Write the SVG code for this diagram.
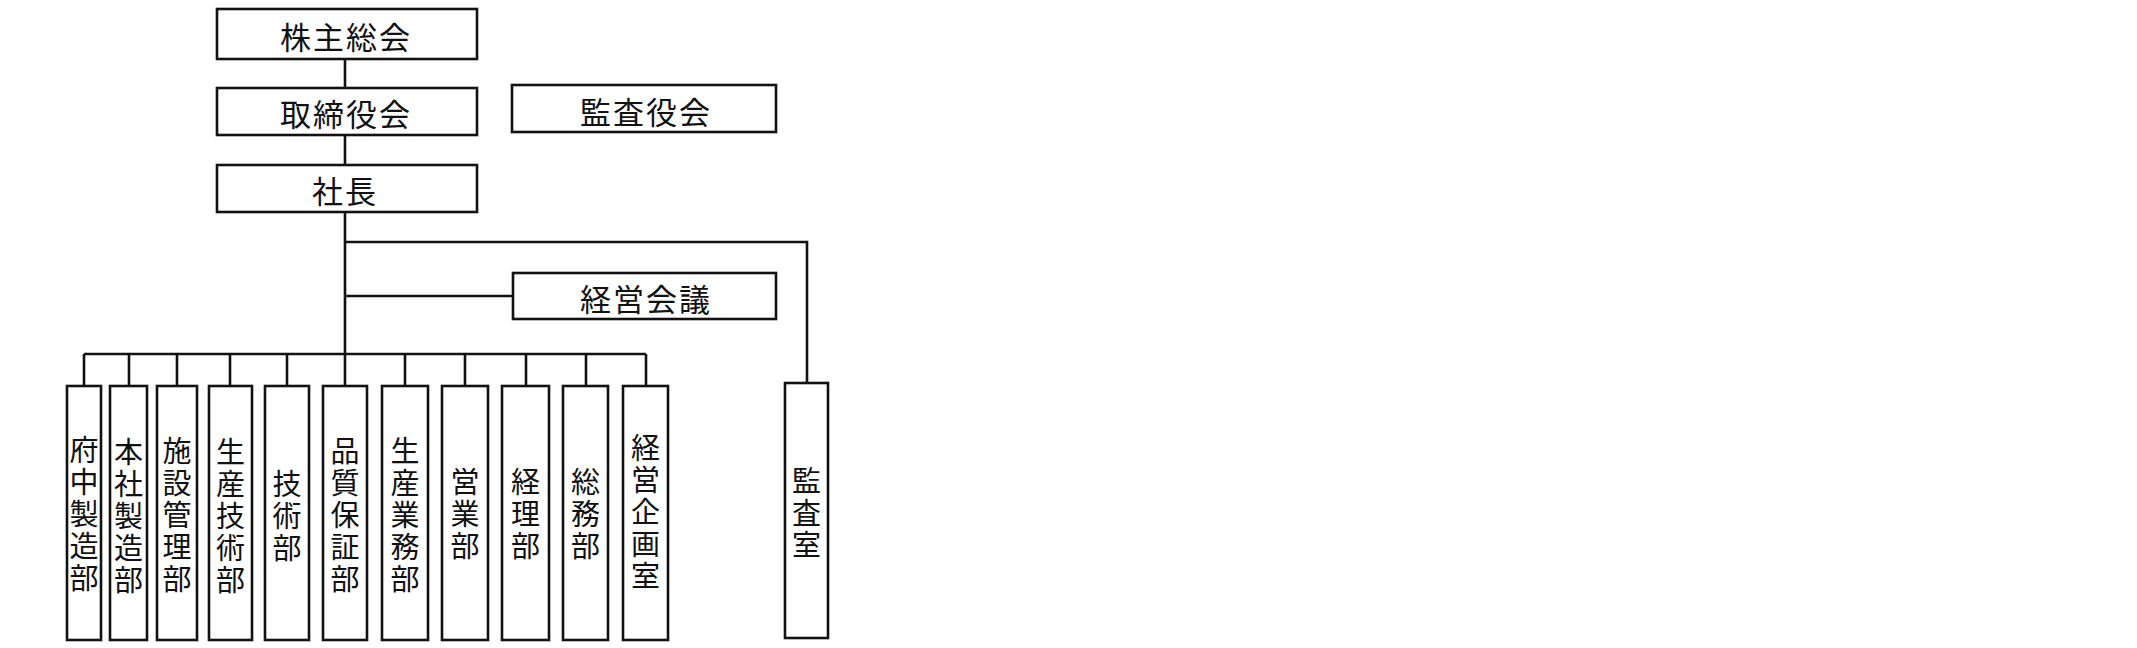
<svg xmlns="http://www.w3.org/2000/svg" width="2137" height="648" viewBox="0 0 2137 648">
<style>
rect{fill:#fff;stroke:#111;stroke-width:2.6}
.c path{fill:none;stroke:#111;stroke-width:2.6}
text{font-family:"Noto Sans CJK JP","Noto Sans CJK SC",sans-serif;fill:#111;text-anchor:middle}
.h{font-size:31px;letter-spacing:2px;dominant-baseline:central}
.v{font-size:29px;letter-spacing:3px;writing-mode:vertical-rl}
</style>
<rect x="0" y="0" width="2137" height="648" style="fill:#fff;stroke:none"/>
<g class="c" id="connectors">
<path d="M345 59V88M345 135V165M345 212V354"/>
<path d="M345 242H807V383"/>
<path d="M345 296H513"/>
<path d="M84 354H646"/>
<path d="M84 354V386M129 354V386M177 354V386M230 354V386M287 354V386M345 354V386M405 354V386M465 354V386M526 354V386M586 354V386M646 354V386"/>
</g>
<g id="n-kabunushi"><rect x="217" y="9" width="260" height="50"/><text class="h" x="346" y="35">株主総会</text></g>
<g id="n-torishimari"><rect x="217" y="88" width="260" height="47"/><text class="h" x="346" y="112">取締役会</text></g>
<g id="n-kansayaku"><rect x="512" y="85" width="264" height="47"/><text class="h" x="646" y="110">監査役会</text></g>
<g id="n-shacho"><rect x="217" y="165" width="260" height="47"/><text class="h" x="345" y="189">社長</text></g>
<g id="n-keiei-kaigi"><rect x="513" y="273" width="263" height="46"/><text class="h" x="646" y="297">経営会議</text></g>
<g id="n-1"><rect x="67" y="386" width="34" height="254"/><text class="v" x="84" y="515.5">府中製造部</text></g>
<g id="n-2"><rect x="110" y="386" width="37" height="254"/><text class="v" x="128.5" y="517.5">本社製造部</text></g>
<g id="n-3"><rect x="157" y="386" width="40" height="254"/><text class="v" x="177" y="516.5">施設管理部</text></g>
<g id="n-4"><rect x="209" y="386" width="43" height="254"/><text class="v" x="230.5" y="517.5">生産技術部</text></g>
<g id="n-5"><rect x="265" y="386" width="44" height="254"/><text class="v" x="287" y="517.5">技術部</text></g>
<g id="n-6"><rect x="323" y="386" width="44" height="254"/><text class="v" x="345" y="516.5">品質保証部</text></g>
<g id="n-7"><rect x="382" y="386" width="46" height="254"/><text class="v" x="405" y="516.5">生産業務部</text></g>
<g id="n-8"><rect x="442" y="386" width="46" height="254"/><text class="v" x="465" y="515.5">営業部</text></g>
<g id="n-9"><rect x="502" y="386" width="47" height="254"/><text class="v" x="525.5" y="515.5">経理部</text></g>
<g id="n-10"><rect x="563" y="386" width="45" height="254"/><text class="v" x="585.5" y="515.5">総務部</text></g>
<g id="n-11"><rect x="623" y="386" width="45" height="254"/><text class="v" x="645.5" y="513.5">経営企画室</text></g>
<g id="n-kansashitsu"><rect x="785" y="383" width="43" height="255"/><text class="v" x="806.5" y="514.5">監査室</text></g>
</svg>
